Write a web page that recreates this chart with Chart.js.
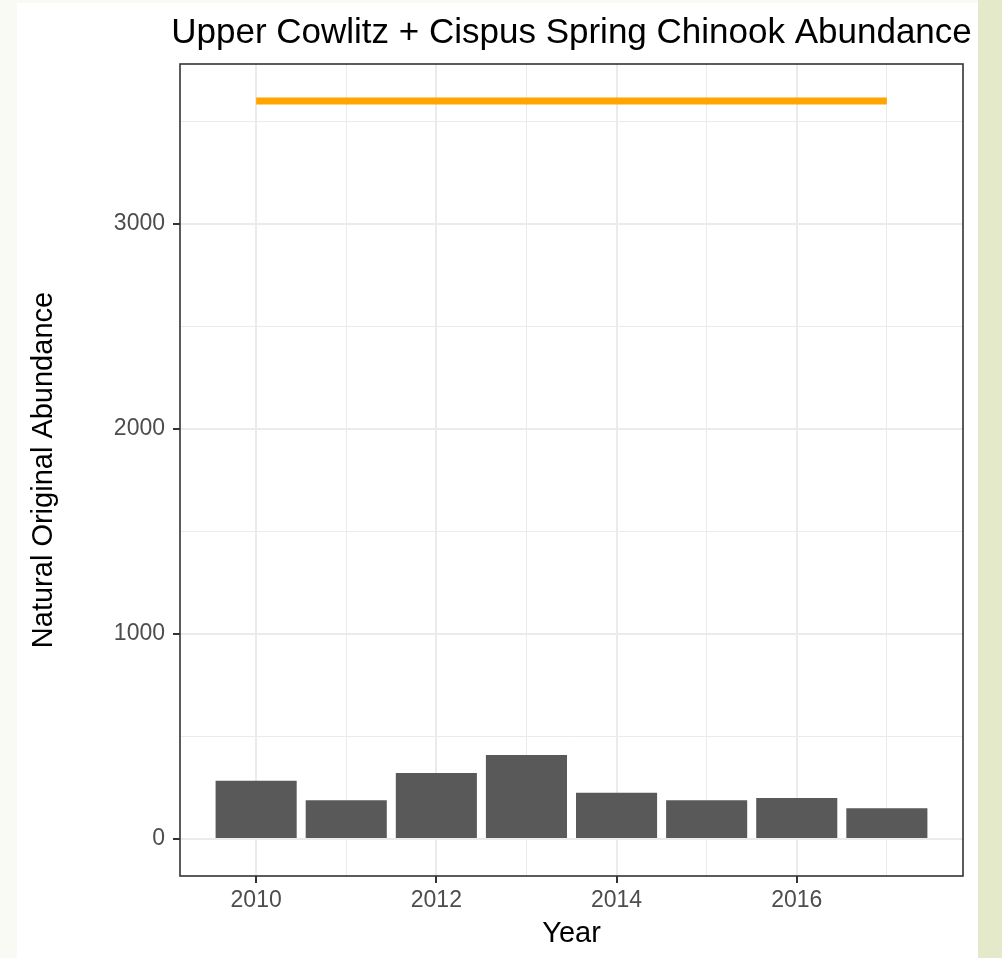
<!DOCTYPE html>
<html><head><meta charset="utf-8">
<script src="https://cdn.jsdelivr.net/npm/chart.js@4"></script>
<style>
html,body{margin:0;padding:0;overflow:hidden}
body{width:1002px;height:958px;position:relative;background:linear-gradient(to right,#f9faf3 0,#f9faf3 978px,#e3e9c9 978px,#e3e9c9 1002px)}
#panel{position:absolute;left:17px;top:3px;width:961px;height:955px;background:#fff}
canvas{display:block}
</style></head><body>
<div id="panel"><canvas id="c" width="961" height="955"></canvas></div>
<script>
const chartTitle = 'Upper Cowlitz + Cispus Spring Chinook Abundance';
const xAxisLabel = 'Year';
const yAxisLabel = 'Natural Original Abundance';
const years = [2010, 2011, 2012, 2013, 2014, 2015, 2016, 2017];
const abundance = [285, 190, 322, 410, 226, 189, 200, 150];
const targetYears = [2010, 2017];
const targetAbundance = [3600, 3600];
const xTickValues = [2010, 2011, 2012, 2013, 2014, 2015, 2016, 2017];
const xTickLabels = ['2010', '', '2012', '', '2014', '', '2016', ''];
const yTickValues = [0, 500, 1000, 1500, 2000, 2500, 3000, 3500];
const yTickLabels = ['0', '', '1000', '', '2000', '', '3000', ''];

const FONT = "'Liberation Sans', Arial, sans-serif";
const isMajorX = v => xTickLabels[xTickValues.indexOf(v)] !== '';
const isMajorY = v => yTickLabels[yTickValues.indexOf(v)] !== '';

const titlePlugin = {
  id: 'ggTitle',
  afterDraw(chart) {
    const {ctx, chartArea} = chart;
    ctx.save();
    ctx.font = '35px ' + FONT;
    ctx.fillStyle = '#000';
    ctx.textAlign = 'center';
    ctx.textBaseline = 'alphabetic';
    ctx.fillText(chartTitle, (chartArea.left + chartArea.right) / 2, 40);
    ctx.restore();
  }
};
const borderPlugin = {
  id: 'panelBorder',
  afterDatasetsDraw(chart) {
    const {ctx, chartArea: a} = chart;
    ctx.save();
    ctx.strokeStyle = '#333333';
    ctx.lineWidth = 1.6;
    ctx.strokeRect(a.left, a.top, a.right - a.left, a.bottom - a.top);
    ctx.restore();
  }
};

new Chart(document.getElementById('c'), {
  type: 'bar',
  data: {
    datasets: [
      {
        type: 'bar',
        data: years.map((y, i) => ({x: y, y: abundance[i]})),
        backgroundColor: '#595959',
        borderWidth: 0,
        categoryPercentage: 1,
        barPercentage: 0.9,
        order: 2
      },
      {
        type: 'line',
        data: targetYears.map((y, i) => ({x: y, y: targetAbundance[i]})),
        borderColor: '#ffa500',
        borderWidth: 7,
        borderCapStyle: 'butt',
        pointRadius: 0,
        fill: false,
        order: 1
      }
    ]
  },
  options: {
    responsive: false,
    animation: false,
    events: [],
    layout: {padding: {top: 61, right: 15, left: 0, bottom: 0}},
    plugins: {legend: {display: false}, tooltip: {enabled: false}, title: {display: false}},
    scales: {
      x: {
        type: 'linear',
        min: 2009.155,
        max: 2017.845,
        offset: false,
        afterBuildTicks: s => { s.ticks = xTickValues.map(v => ({value: v})); },
        afterFit: s => { s.height = 82; },
        border: {display: false},
        grid: {
          offset: false,
          color: '#ebebeb',
          lineWidth: c => (c.tick && isMajorX(c.tick.value)) ? 2 : 1,
          drawTicks: true,
          tickLength: 7,
          tickWidth: 2,
          tickColor: c => (c.tick && isMajorX(c.tick.value)) ? '#333333' : 'rgba(0,0,0,0)'
        },
        ticks: {
          autoSkip: false,
          maxRotation: 0,
          padding: 4,
          color: '#4d4d4d',
          font: {family: FONT, size: 23},
          callback: v => { const i = xTickValues.indexOf(v); return i >= 0 ? xTickLabels[i] : ''; }
        },
        title: {display: true, text: xAxisLabel, color: '#000', font: {family: FONT, size: 29}, padding: {top: 0, bottom: 7}}
      },
      y: {
        type: 'linear',
        min: -180,
        max: 3780,
        afterBuildTicks: s => { s.ticks = yTickValues.map(v => ({value: v})); },
        afterFit: s => { s.width = 163; },
        border: {display: false},
        grid: {
          color: '#ebebeb',
          lineWidth: c => (c.tick && isMajorY(c.tick.value)) ? 2 : 1,
          drawTicks: true,
          tickLength: 7,
          tickWidth: 2,
          tickColor: c => (c.tick && isMajorY(c.tick.value)) ? '#333333' : 'rgba(0,0,0,0)'
        },
        ticks: {
          autoSkip: false,
          padding: 8,
          color: '#4d4d4d',
          font: {family: FONT, size: 23},
          callback: v => { const i = yTickValues.indexOf(v); return i >= 0 ? yTickLabels[i] : ''; }
        },
        title: {display: true, text: yAxisLabel, color: '#000', font: {family: FONT, size: 29}, padding: {top: 10, bottom: 0}}
      }
    }
  },
  plugins: [titlePlugin, borderPlugin]
});
</script>
</body></html>
